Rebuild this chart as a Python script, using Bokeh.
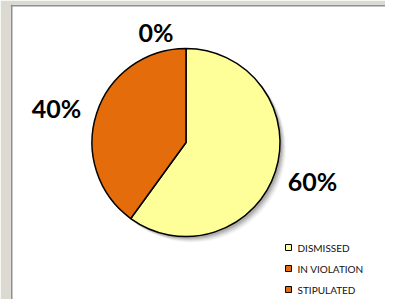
import numpy as np
from bokeh.plotting import figure
from bokeh.models import Range1d, Span, ColumnDataSource
from bokeh.core.properties import value
from bokeh.embed import file_html
from bokeh.resources import INLINE

# ---- data ----
categories = ["DISMISSED", "IN VIOLATION", "STIPULATED"]
shares = [60, 40, 0]
pct_labels = ["60%", "40%", "0%"]
colors = ["#FFFF99", "#E46C0A", "#E46C0A"]

# ---- layout (image pixel coordinates, y measured upward: y = 307 - row) ----
W, H = 385, 299
cx, cy, R = 185.5, 307 - 142, 94
label_dist = 133
label_nudge_x = [0, -3, -30]
label_nudge_y = [3, -7, -22]

p = figure(width=W, height=H, x_range=Range1d(10, 385), y_range=Range1d(8, 303),
           output_backend="svg", toolbar_location=None,
           min_border_left=10, min_border_right=0, min_border_top=4, min_border_bottom=0)
p.axis.visible = False
p.grid.visible = False
p.outline_line_color = None
p.border_fill_color = "#DCDAD0"
p.background_fill_color = "white"
p.add_layout(Span(location=11, dimension="height", line_color="#8F8F8F", line_width=2))
p.add_layout(Span(location=302, dimension="width", line_color="#8F8F8F", line_width=2))

# shadow
for k, a in zip([6, 5, 4, 3, 2], [0.04, 0.05, 0.07, 0.09, 0.11]):
    p.circle(x=[cx + k], y=[cy - k], radius=R, fill_color="black", fill_alpha=a,
             line_color=None)

# wedges, clockwise from 12 o'clock
tot = float(sum(shares))
frac = np.array(shares) / tot
cum = np.concatenate([[0], np.cumsum(frac)])
a0 = np.pi / 2 - 2 * np.pi * cum[:-1]
a1 = np.pi / 2 - 2 * np.pi * cum[1:]
keep = frac > 0
wsrc = ColumnDataSource(dict(start=list(a1[keep]), end=list(a0[keep]),
                             color=[c for c, k in zip(colors, keep) if k]))
p.wedge(x=cx, y=cy, radius=R, start_angle="start", end_angle="end", source=wsrc,
        fill_color="color", line_color="black", line_width=1.5)

# percentage labels
mid = (a0 + a1) / 2
lx = cx + label_dist * np.cos(mid) + np.array(label_nudge_x)
ly = cy + label_dist * np.sin(mid) + np.array(label_nudge_y)
p.text(x=list(lx), y=list(ly), text=pct_labels, text_font=value("Lato"),
       text_font_style="bold", text_font_size="25px", text_color="black",
       text_align="center", text_baseline="middle")

# legend
n = len(categories)
leg_y = [307 - (247 + 21 * i) for i in range(n)]
p.scatter(x=[288] * n, y=leg_y, marker="square", size=6, fill_color=colors,
          line_color="black", line_width=1)
p.text(x=[297] * n, y=leg_y, text=categories, text_font=value("Lato"),
       text_font_size="10px", text_color="#111111", text_baseline="middle",
       text_align="left")

open("out.html", "w").write(file_html(p, INLINE))
